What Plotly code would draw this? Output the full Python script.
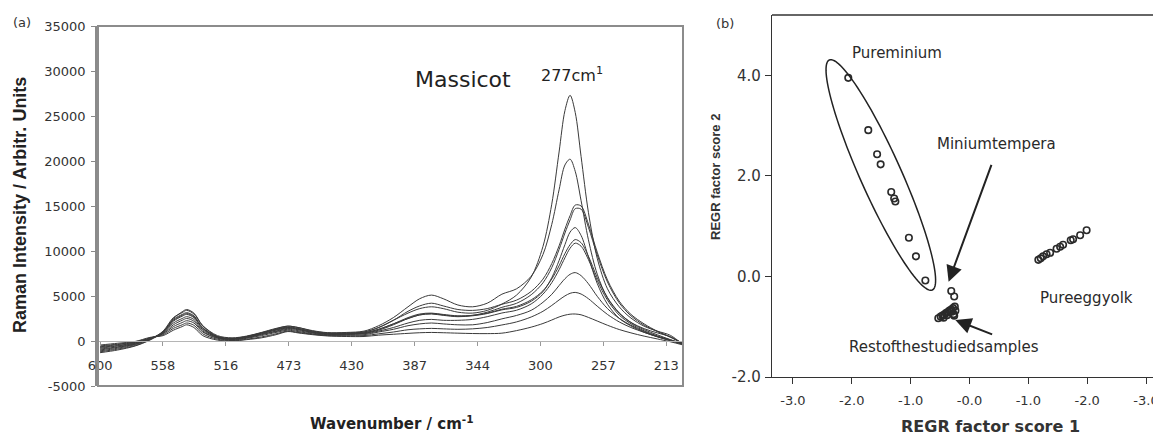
import numpy as np
import plotly.graph_objects as go

# ---------------- data: panel (a) Raman spectra ----------------
WAVENUMBER = [600, 588, 576, 566, 557, 550, 544, 541, 536, 530, 520, 510, 500, 490, 480, 472, 465, 455, 445, 432,
              420, 410, 400, 390, 382, 374, 366, 356, 346, 336, 326,
              316, 306, 298, 292, 287, 283, 279.5, 276, 272, 267, 261, 254, 246, 238, 229, 220, 211, 202.5]

SPEC_1 = [-1300, -1000, -550, 100, 1000, 2500, 3250, 3500, 3100, 1700, 500, 250, 500, 900, 1350, 1650, 1500, 1100, 900, 900,
          1000, 1500, 2300, 3100, 3600, 3800, 3600, 3200, 3100, 3400, 4100,
          5100, 7100, 10500, 15200, 21000, 25600, 27300, 25400, 20500, 14300, 9200, 5800, 3800, 2550, 1640, 1100, 620, -400]
SPEC_2 = [-1200, -900, -500, 150, 1100, 2600, 3150, 3400, 3000, 1700, 600, 350, 550, 950, 1400, 1650, 1500, 1150, 930, 950,
          1100, 1700, 2600, 3800, 4700, 5100, 4700, 4000, 3800, 4200, 5200,
          5800, 7200, 9600, 12950, 16800, 19560, 20200, 18860, 15600, 11250, 7430, 4780, 3080, 2070, 1370, 900, 470, -350]
SPEC_3 = [-1100, -800, -400, 200, 1000, 2400, 2950, 3150, 2800, 1500, 500, 300, 500, 900, 1300, 1550, 1400, 1050, 850, 880,
          1000, 1500, 2300, 3300, 3900, 4200, 3900, 3500, 3400, 3600, 4080,
          4540, 5510, 6870, 8600, 10570, 12440, 13930, 15100, 15000, 12990, 9870, 6780, 4430, 2960, 1900, 1080, 435, -270]
SPEC_4 = [-1000, -700, -350, 200, 950, 2200, 2750, 2950, 2600, 1400, 450, 250, 450, 850, 1250, 1500, 1350, 1000, 800, 820,
          900, 1300, 1900, 2600, 3000, 3100, 2950, 2800, 2850, 3200, 3740,
          4190, 5140, 6460, 8150, 10170, 12000, 13450, 14700, 14650, 12630, 9570, 6550, 4240, 2800, 1760, 1050, 410, -300]
SPEC_5 = [-900, -650, -300, 250, 1000, 2300, 2850, 3050, 2700, 1400, 450, 250, 450, 800, 1200, 1450, 1300, 950, 780, 800,
          900, 1300, 1900, 2500, 2900, 3000, 2850, 2700, 2800, 3050, 3460,
          3730, 4420, 5480, 7030, 8940, 10710, 12100, 12600, 11730, 9330, 6400, 4080, 2520, 1670, 970, 480, 90, -340]
SPEC_6 = [-800, -550, -250, 250, 900, 2000, 2500, 2700, 2400, 1250, 400, 200, 400, 750, 1100, 1400, 1250, 950, 750, 760,
          850, 1200, 1800, 2500, 2900, 3050, 2900, 2750, 2850, 3100, 3530,
          3850, 4570, 5580, 6890, 8360, 9720, 10700, 11270, 10920, 9420, 7050, 4820, 3140, 2050, 1260, 690, 140, -310]
SPEC_7 = [-700, -500, -200, 300, 850, 1800, 2300, 2500, 2200, 1100, 350, 150, 350, 700, 1050, 1300, 1150, 880, 700, 720,
          800, 1100, 1500, 2000, 2300, 2400, 2300, 2300, 2400, 2700, 3110,
          3420, 4120, 5200, 6480, 7920, 9250, 10310, 10870, 10530, 9050, 6730, 4540, 2880, 1910, 1130, 570, 130, -320]
SPEC_8 = [-650, -400, -150, 300, 800, 1600, 2050, 2250, 2000, 1000, 300, 100, 300, 600, 950, 1200, 1050, 800, 650, 650,
          700, 1000, 1300, 1700, 1900, 2000, 1900, 1800, 1800, 2050, 2460,
          2840, 3410, 4300, 5180, 6160, 6920, 7410, 7600, 7260, 6360, 4970, 3600, 2510, 1750, 1050, 500, 30, -370]
SPEC_9 = [-550, -350, -100, 350, 700, 1400, 1800, 2000, 1750, 800, 200, 50, 200, 450, 800, 1100, 950, 750, 600, 580,
          600, 800, 1000, 1250, 1350, 1400, 1350, 1300, 1350, 1500, 1780,
          2120, 2670, 3300, 3950, 4560, 5010, 5300, 5400, 5220, 4700, 3870, 2950, 2120, 1500, 960, 460, 30, -360]
SPEC_10 = [-450, -250, -50, 400, 600, 1200, 1600, 1800, 1500, 600, 100, 0, 150, 350, 700, 1050, 900, 700, 560, 500,
           500, 650, 750, 850, 920, 950, 920, 870, 830, 820, 870,
           1155, 1540, 1945, 2330, 2670, 2870, 2980, 3000, 2910, 2620, 2220, 1750, 1275, 905, 540, 230, -90, -440]
SPECTRA = [SPEC_1, SPEC_2, SPEC_3, SPEC_4, SPEC_5, SPEC_6, SPEC_7, SPEC_8, SPEC_9, SPEC_10]

Y_TICKS_A = [-5000, 0, 5000, 10000, 15000, 20000, 25000, 30000, 35000]
X_TICK_LABELS_A = ["600", "558", "516", "473", "430", "387", "344", "300", "257", "213"]

# ---------------- data: panel (b) factor scores ----------------
MINIUM_X = [-2.06, -1.72, -1.57, -1.51, -1.33, -1.28, -1.26, -1.03, -0.91, -0.75]
MINIUM_Y = [3.95, 2.91, 2.43, 2.23, 1.68, 1.55, 1.49, 0.77, 0.40, -0.08]
TEMPERA_X = [-0.31, -0.26]
TEMPERA_Y = [-0.29, -0.40]
REST_X = [-0.53, -0.49, -0.46, -0.43, -0.40, -0.37, -0.34, -0.31, -0.28, -0.25, -0.24, -0.27, -0.30, -0.26, -0.38, -0.44]
REST_Y = [-0.83, -0.80, -0.78, -0.76, -0.73, -0.71, -0.68, -0.66, -0.63, -0.60, -0.68, -0.75, -0.70, -0.78, -0.77, -0.82]
YOLK_X = [1.17, 1.21, 1.25, 1.31, 1.37, 1.48, 1.54, 1.59, 1.72, 1.76, 1.88, 1.99]
YOLK_Y = [0.33, 0.36, 0.40, 0.44, 0.47, 0.55, 0.59, 0.63, 0.72, 0.74, 0.82, 0.92]

X_TICKS_B = [-3, -2, -1, 0, 1, 2, 3]
X_TICK_TEXT_B = ["-3.0", "-2.0", "-1.0", "-0.0", "-1.0", "-2.0", "-3.0"]
Y_TICKS_B = [-2, 0, 2, 4]
Y_TICK_TEXT_B = ["-2.0", "0.0", "2.0", "4.0"]

# ---------------- layout geometry (page pixels; the page body has an 8 px margin) ----------------
PAGE_W, PAGE_H, BODY = 1161, 435, 8
FW, FH = PAGE_W - BODY, PAGE_H - BODY
def fx(p):
    return (p - BODY) / FW
def fy(p):
    return 1 - (p - BODY) / FH

XA_RANGE = [601.4, 202.5]
YA_RANGE = [-5000, 35000]
XB_RANGE = [-3.356, 3.254]
YB_RANGE = [-2.0, 5.2]
XA_DOM = [fx(98), fx(683)]
YA_DOM = [fy(386), fy(26)]
XB_DOM = [fx(772), 1.0]
YB_DOM = [fy(377), fy(15)]

fig = go.Figure()

for s in SPECTRA:
    fig.add_trace(go.Scatter(x=WAVENUMBER, y=s, mode="lines",
                             line=dict(color="#3a3a3a", width=1, shape="spline", smoothing=0.9),
                             xaxis="x", yaxis="y", showlegend=False, hoverinfo="skip"))

mk = dict(symbol="circle-open", size=6.5, color="#2a2a2a", line=dict(width=1.6, color="#2a2a2a"))
for xs, ys in [(MINIUM_X, MINIUM_Y), (TEMPERA_X, TEMPERA_Y), (REST_X, REST_Y), (YOLK_X, YOLK_Y)]:
    fig.add_trace(go.Scatter(x=xs, y=ys, mode="markers", marker=mk,
                             xaxis="x2", yaxis="y2", showlegend=False, hoverinfo="skip"))

tick_font = dict(family="DejaVu Sans", size=13, color="#333333")
tick_font_b = dict(family="DejaVu Sans", size=13, color="#333333")
zero_frac = (0 - YA_RANGE[0]) / (YA_RANGE[1] - YA_RANGE[0])
xa_pos = YA_DOM[0] + zero_frac * (YA_DOM[1] - YA_DOM[0])

fig.update_layout(
    width=FW, height=FH, margin=dict(l=0, r=0, t=0, b=0, autoexpand=False),
    paper_bgcolor="white", plot_bgcolor="white",
    xaxis=dict(domain=XA_DOM, range=XA_RANGE, anchor="free", position=xa_pos, automargin=False,
               tickvals=list(np.linspace(600, 213.9, len(X_TICK_LABELS_A))), ticktext=X_TICK_LABELS_A,
               ticks="outside", ticklen=4, tickcolor="#999999", showline=True, linecolor="#b5b5b5", linewidth=1,
               showgrid=False, zeroline=False, tickfont=tick_font, ticklabelstandoff=8),
    yaxis=dict(domain=YA_DOM, range=YA_RANGE, anchor="x", tickvals=Y_TICKS_A, automargin=False,
               ticktext=[str(v) for v in Y_TICKS_A],
               ticks="outside", ticklen=4, tickcolor="#888888", showline=True, linecolor="#8a8a8a", linewidth=2.5,
               showgrid=False, zeroline=False, tickfont=tick_font, ticklabelstandoff=3),
    xaxis2=dict(domain=XB_DOM, range=XB_RANGE, anchor="y2", tickvals=X_TICKS_B, ticktext=X_TICK_TEXT_B,
                automargin=False,
                ticks="outside", ticklen=6, tickcolor="#333333", showline=True, linecolor="#333333", linewidth=1.3,
                showgrid=False, zeroline=False, tickfont=tick_font_b, ticklabelstandoff=5),
    yaxis2=dict(domain=YB_DOM, range=YB_RANGE, anchor="x2", tickvals=Y_TICKS_B, ticktext=Y_TICK_TEXT_B,
                automargin=False,
                ticks="outside", ticklen=6, tickcolor="#333333", showline=True, linecolor="#333333", linewidth=1.3,
                showgrid=False, zeroline=False, tickfont=dict(family="DejaVu Sans", size=15, color="#333333"),
                ticklabelstandoff=1),
)

shapes = [
    dict(type="rect", xref="x domain", yref="y domain", x0=0, x1=1, y0=0, y1=1,
         line=dict(color="#8c8c8c", width=2)),
    dict(type="line", xref="x2 domain", yref="y2 domain", x0=0, x1=1, y0=1, y1=1,
         line=dict(color="#333333", width=1.3)),
]

# ellipse around the pure minium group (drawn in pixel geometry, converted to data units)
ppx = (XB_DOM[1] - XB_DOM[0]) * FW / (XB_RANGE[1] - XB_RANGE[0])
ppy = (YB_DOM[1] - YB_DOM[0]) * FH / (YB_RANGE[1] - YB_RANGE[0])
ecx, ecy = -1.507, 2.018
ea, eb = 126.0, 20.5
ux, uy = 103 / 252.0, 230 / 252.0
t = np.linspace(0, 2 * np.pi, 121)
dx_px = ea * np.cos(t) * ux - eb * np.sin(t) * uy
dy_px = ea * np.cos(t) * uy + eb * np.sin(t) * ux
ex = ecx + dx_px / ppx
ey = ecy - dy_px / ppy
path = "M " + " L ".join(f"{a:.4f},{b:.4f}" for a, b in zip(ex, ey)) + " Z"
shapes.append(dict(type="path", xref="x2", yref="y2", path=path, line=dict(color="#222222", width=1.5)))
fig.update_layout(shapes=shapes)

ann = []
txt = dict(family="DejaVu Sans", size=15, color="#2a2a2a")
def label(x, y, text, font, xref="x2", yref="y2", angle=0):
    return dict(x=x, y=y, xref=xref, yref=yref, text=text, showarrow=False, font=font,
                xanchor="center", yanchor="middle", textangle=angle)

ann.append(label(-1.227, 4.444, "Pureminium", txt))
ann.append(label(0.455, 2.634, "Miniumtempera", txt))
ann.append(label(1.985, -0.428, "Pureeggyolk", txt))
ann.append(label(-0.428, -1.403, "Restofthestudiedsamples", txt))
ann.append(dict(x=-0.355, y=-0.104, ax=0.382, ay=2.25, xref="x2", yref="y2", axref="x2", ayref="y2",
                text="", showarrow=True, arrowhead=2, arrowsize=1.6, arrowwidth=2, arrowcolor="#222222"))
ann.append(dict(x=-0.241, y=-0.866, ax=0.410, ay=-1.164, xref="x2", yref="y2", axref="x2", ayref="y2",
                text="", showarrow=True, arrowhead=2, arrowsize=1.6, arrowwidth=2, arrowcolor="#222222"))

ann.append(label(fx(725), fy(23), "(b)", dict(family="DejaVu Sans", size=13, color="#333333"), "paper", "paper"))
ann.append(label(fx(22), fy(22), "(a)", dict(family="DejaVu Sans", size=13, color="#333333"), "paper", "paper"))
ann.append(label(fx(715), fy(177), "<b>REGR factor score 2</b>",
                 dict(family="Liberation Sans", size=13, color="#333333"), "paper", "paper", -90))
ann.append(label(fx(990), fy(426), "<b>REGR factor score 1</b>",
                 dict(family="DejaVu Sans", size=16, color="#333333"), "paper", "paper"))
ann.append(label(fx(20), fy(205), "<b>Raman Intensity / Arbitr. Units</b>",
                 dict(family="Liberation Sans", size=18, color="#222222"), "paper", "paper", -90))
ann.append(label(fx(392), fy(423), "<b>Wavenumber / cm<sup>-1</sup></b>",
                 dict(family="DejaVu Sans", size=15, color="#222222"), "paper", "paper"))
ann.append(label(fx(463), fy(80), "Massicot",
                 dict(family="DejaVu Sans", size=22, color="#222222"), "paper", "paper"))
ann.append(label(fx(572), fy(75), "277cm<sup>1</sup>",
                 dict(family="DejaVu Sans", size=16, color="#222222"), "paper", "paper"))
fig.update_layout(annotations=ann)

fig.write_html("out.html")
